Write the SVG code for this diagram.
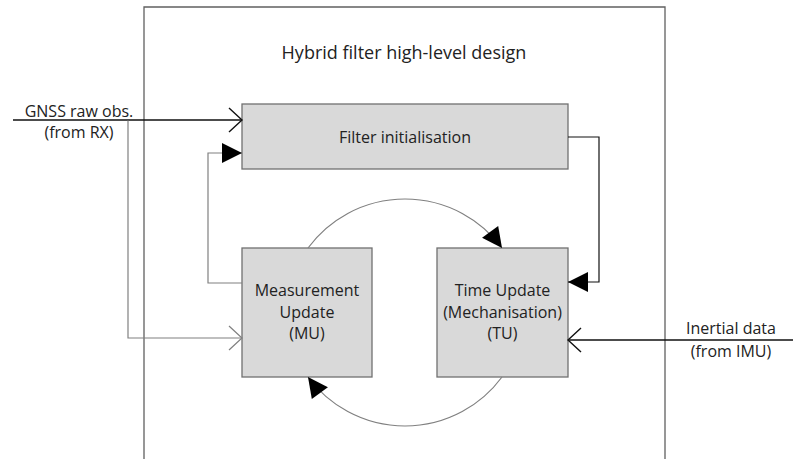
<svg xmlns="http://www.w3.org/2000/svg" width="793" height="459" viewBox="0 0 793 459">
  <style>
    .frame { fill: none; stroke: #606060; stroke-width: 1.3; }
    .box { fill: #d9d9d9; stroke: #707070; stroke-width: 1.3; }
    .lbl { font-family: "Open Sans", "Liberation Sans", sans-serif; font-size: 16px; fill: #222222; text-anchor: middle; }
    .title { font-size: 18px; }
    .wire { fill: none; stroke-width: 1.2; }
    .dark { stroke: #111111; }
    .grey { stroke: #808080; }
    .thick { stroke-width: 1.6; }
  </style>
  <defs>
    <marker id="solid" markerUnits="userSpaceOnUse" markerWidth="24" markerHeight="24" refX="20" refY="10" orient="auto" overflow="visible">
      <path d="M0,0 L20,10 L0,20 Z" fill="#000000"/>
    </marker>
    <marker id="openDark" markerUnits="userSpaceOnUse" markerWidth="16" markerHeight="26" refX="13" refY="12" orient="auto" overflow="visible">
      <path d="M0,0 L13,12 L0,24" fill="none" stroke="#111111" stroke-width="1.4"/>
    </marker>
    <marker id="openGrey" markerUnits="userSpaceOnUse" markerWidth="16" markerHeight="26" refX="13" refY="12" orient="auto" overflow="visible">
      <path d="M0,0 L13,12 L0,24" fill="none" stroke="#808080" stroke-width="1.2"/>
    </marker>
  </defs>

  <rect width="793" height="459" fill="#ffffff"/>

  <!-- enclosing frame, open at the bottom -->
  <path class="frame" d="M144,470 V7 H665 V470"/>
  <text class="lbl title" x="404" y="59">Hybrid filter high-level design</text>

  <g id="filter-init">
    <rect class="box" x="242" y="104" width="326" height="65"/>
    <text class="lbl" x="405" y="143">Filter initialisation</text>
  </g>

  <g id="measurement-update">
    <rect class="box" x="242" y="248" width="130" height="129"/>
    <text class="lbl" x="307" y="296">Measurement</text>
    <text class="lbl" x="307" y="317.5">Update</text>
    <text class="lbl" x="307" y="339">(MU)</text>
  </g>

  <g id="time-update">
    <rect class="box" x="437" y="248" width="131" height="129"/>
    <text class="lbl" x="502.5" y="296">Time Update</text>
    <text class="lbl" x="502.5" y="317.5">(Mechanisation)</text>
    <text class="lbl" x="502.5" y="339">(TU)</text>
  </g>

  <g id="gnss-input">
    <text class="lbl" x="79" y="117">GNSS raw obs.</text>
    <text class="lbl" x="79" y="138">(from RX)</text>
  </g>

  <g id="imu-input">
    <text class="lbl" x="731" y="334">Inertial data</text>
    <text class="lbl" x="731" y="357">(from IMU)</text>
  </g>

  <g id="connectors">
    <!-- GNSS observations into initialisation and measurement update -->
    <path class="wire dark thick" d="M13,120 H242" marker-end="url(#openDark)"/>
    <path class="wire grey" d="M128,120.5 V338 H242" marker-end="url(#openGrey)"/>
    <!-- MU back to initialisation -->
    <path class="wire grey" d="M242,283 H208 V153 H242" marker-end="url(#solid)"/>
    <!-- initialisation to TU -->
    <path class="wire dark" d="M568,137 H599 V282 H568" marker-end="url(#solid)"/>
    <!-- inertial data into TU -->
    <path class="wire dark thick" d="M793,340 H568" marker-end="url(#openDark)"/>
    <!-- MU / TU loop -->
    <path class="wire grey" d="M308,248 A120.5,120.5 0 0 1 502,248" marker-end="url(#solid)"/>
    <path class="wire grey" d="M502,377 A120.5,120.5 0 0 1 308,377" marker-end="url(#solid)"/>
  </g>
</svg>
